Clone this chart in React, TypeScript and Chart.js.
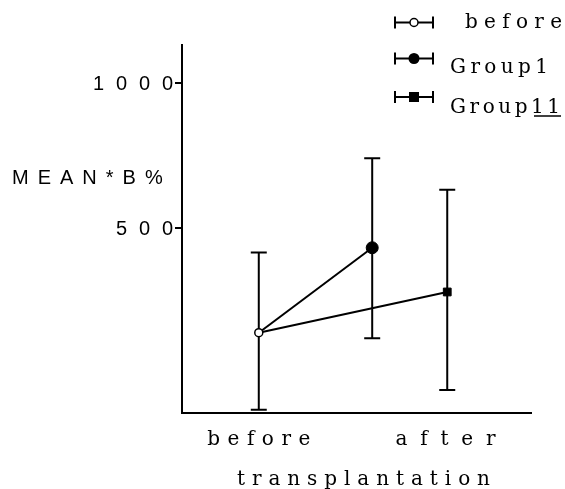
import React, { useEffect, useRef } from 'react';
import { Chart, registerables } from 'chart.js';

Chart.register(...registerables);

// ---- data ----
const seriesNames = ['before', 'Group1', 'Group11'];
const xValues = [2.2, 5.45, 7.6];
const means = [140, 432, 280];
const upper = [416, 740, 631];
const lower = [-125, 121, -57];
const yTickValues = [500, 1000];
const xTickValues = [2.2, 7.55];
const xTickLabels = ['before', 'after'];
const xTitle = 'transplantation';
const yTitle = 'MEAN*B%';

const TYPE = '"DejaVu Serif", "Liberation Serif", serif';
const SANS = '"Liberation Sans", Arial, sans-serif';

function baseWidth(ctx: CanvasRenderingContext2D, text: string) {
  (ctx as any).letterSpacing = '0px';
  return ctx.measureText(text).width;
}

function drawSpaced(
  ctx: CanvasRenderingContext2D,
  text: string,
  x: number,
  y: number,
  spacing: number,
  align: 'left' | 'center' | 'right'
) {
  const total = baseWidth(ctx, text) + spacing * (text.length - 1);
  let left = x;
  if (align === 'center') left = x - total / 2;
  if (align === 'right') left = x - total;
  (ctx as any).letterSpacing = spacing + 'px';
  ctx.textAlign = 'left';
  ctx.fillText(text, left, y);
  (ctx as any).letterSpacing = '0px';
  return { left, total };
}

// draw text stretched (by letter spacing) to a given overall width
function drawFitted(
  ctx: CanvasRenderingContext2D,
  text: string,
  x: number,
  y: number,
  width: number,
  align: 'left' | 'center' | 'right'
) {
  const w0 = baseWidth(ctx, text);
  const s = text.length > 1 ? Math.max(0, (width - w0) / (text.length - 1)) : 0;
  return drawSpaced(ctx, text, x, y, s, align);
}

const errorBarPlugin = {
  id: 'errorBars',
  beforeDatasetsDraw(chart: any) {
    const ctx = chart.ctx as CanvasRenderingContext2D;
    const xs = chart.scales.x;
    const ys = chart.scales.y;
    ctx.save();
    ctx.strokeStyle = '#000';
    ctx.lineWidth = 2;
    for (let i = 0; i < xValues.length; i++) {
      const x = xs.getPixelForValue(xValues[i]);
      const yt = ys.getPixelForValue(upper[i]);
      const yb = ys.getPixelForValue(lower[i]);
      ctx.beginPath();
      ctx.moveTo(x, yt);
      ctx.lineTo(x, yb);
      ctx.moveTo(x - 8, yt);
      ctx.lineTo(x + 8, yt);
      ctx.moveTo(x - 8, yb);
      ctx.lineTo(x + 8, yb);
      ctx.stroke();
    }
    ctx.restore();
  },
};

const textPlugin = {
  id: 'texts',
  afterDraw(chart: any) {
    const ctx = chart.ctx as CanvasRenderingContext2D;
    const xs = chart.scales.x;
    const ys = chart.scales.y;
    const area = chart.chartArea;
    ctx.save();
    ctx.fillStyle = '#000';

    // y tick labels
    ctx.font = '20px ' + SANS;
    ctx.textBaseline = 'middle';
    yTickValues.forEach((v) => {
      drawSpaced(ctx, String(v), area.left - 9, ys.getPixelForValue(v) + 1.5, 11.8, 'right');
    });

    // y title
    drawSpaced(ctx, yTitle, 12, area.top + 133, 9, 'left');

    // x tick labels
    ctx.font = '20px ' + TYPE;
    ctx.textBaseline = 'alphabetic';
    const xTickWidths = [103, 100];
    xTickValues.forEach((v, i) => {
      drawFitted(ctx, xTickLabels[i], xs.getPixelForValue(v), area.bottom + 32, xTickWidths[i], 'center');
    });

    // x title
    drawFitted(ctx, xTitle, (area.left + area.right) / 2 + 7, area.bottom + 72, 253, 'center');

    // legend
    const symX = 414;
    const symYs = [22.5, 58.5, 97];
    const textXs = [465, 450, 450];
    const baseYs = [28, 73, 113];
    const textWidths = [97, 98, 110];
    ctx.strokeStyle = '#000';
    ctx.lineWidth = 2;
    for (let i = 0; i < seriesNames.length; i++) {
      const y = symYs[i];
      ctx.beginPath();
      ctx.moveTo(symX - 19, y);
      ctx.lineTo(symX + 19, y);
      ctx.moveTo(symX - 19, y - 6);
      ctx.lineTo(symX - 19, y + 6);
      ctx.moveTo(symX + 19, y - 6);
      ctx.lineTo(symX + 19, y + 6);
      ctx.stroke();
      if (i === 0) {
        ctx.beginPath();
        ctx.arc(symX, y, 4, 0, Math.PI * 2);
        ctx.fillStyle = '#fff';
        ctx.fill();
        ctx.lineWidth = 1.5;
        ctx.stroke();
        ctx.lineWidth = 2;
      } else if (i === 1) {
        ctx.beginPath();
        ctx.arc(symX, y, 5.5, 0, Math.PI * 2);
        ctx.fillStyle = '#000';
        ctx.fill();
      } else {
        ctx.fillStyle = '#000';
        ctx.fillRect(symX - 5, y - 5, 10, 10);
      }
      ctx.fillStyle = '#000';
      ctx.font = '20px ' + TYPE;
      const r = drawFitted(ctx, seriesNames[i], textXs[i], baseYs[i], textWidths[i], 'left');
      if (i === 2) {
        ctx.lineWidth = 1.5;
        ctx.beginPath();
        ctx.moveTo(r.left + r.total - 26, baseYs[i] + 3);
        ctx.lineTo(r.left + r.total + 1, baseYs[i] + 3);
        ctx.stroke();
        ctx.lineWidth = 2;
      }
    }
    ctx.restore();
  },
};

export default function App() {
  const canvasRef = useRef<HTMLCanvasElement | null>(null);

  useEffect(() => {
    if (!canvasRef.current) return;
    const p0 = { x: xValues[0], y: means[0] };
    const chart = new Chart(canvasRef.current, {
      type: 'scatter',
      data: {
        datasets: [
          {
            label: seriesNames[0],
            data: [p0],
            pointStyle: 'circle',
            pointRadius: 4,
            pointBackgroundColor: '#fff',
            pointBorderColor: '#000',
            pointBorderWidth: 1.5,
            order: 0,
          },
          {
            label: seriesNames[1],
            data: [p0, { x: xValues[1], y: means[1] }],
            showLine: true,
            borderColor: '#000',
            borderWidth: 2,
            pointStyle: 'circle',
            pointRadius: [0, 6],
            pointBackgroundColor: '#000',
            pointBorderColor: '#000',
            pointBorderWidth: 1,
            order: 1,
          },
          {
            label: seriesNames[2],
            data: [p0, { x: xValues[2], y: means[2] }],
            showLine: true,
            borderColor: '#000',
            borderWidth: 2,
            pointStyle: 'rect',
            pointRadius: [0, 5.5],
            pointBackgroundColor: '#000',
            pointBorderColor: '#000',
            pointBorderWidth: 1,
            order: 2,
          },
        ],
      },
      options: {
        responsive: false,
        animation: false,
        events: [],
        layout: { padding: { left: 0, right: 34, top: 45, bottom: 0 } },
        plugins: {
          legend: { display: false },
          tooltip: { enabled: false },
        },
        scales: {
          x: {
            type: 'linear',
            min: 0,
            max: 10,
            position: 'bottom',
            grid: { display: false },
            border: { display: true, color: '#000', width: 2 },
            ticks: { display: false },
            afterFit: (s: any) => {
              s.height = 76;
            },
          },
          y: {
            type: 'linear',
            min: -136,
            max: 1129,
            grid: {
              drawOnChartArea: false,
              drawTicks: true,
              tickLength: 7,
              color: '#000',
              lineWidth: 2,
            },
            border: { display: true, color: '#000', width: 2 },
            ticks: { display: false },
            afterBuildTicks: (s: any) => {
              s.ticks = yTickValues.map((v) => ({ value: v }));
            },
            afterFit: (s: any) => {
              s.width = 182;
            },
          },
        },
      } as any,
      plugins: [errorBarPlugin, textPlugin],
    });
    return () => chart.destroy();
  }, []);

  return (
    <div style={{ position: 'absolute', left: 0, top: 0, width: 565, height: 489, background: '#fff' }}>
      <canvas ref={canvasRef} width={565} height={489} style={{ display: 'block' }} />
    </div>
  );
}
